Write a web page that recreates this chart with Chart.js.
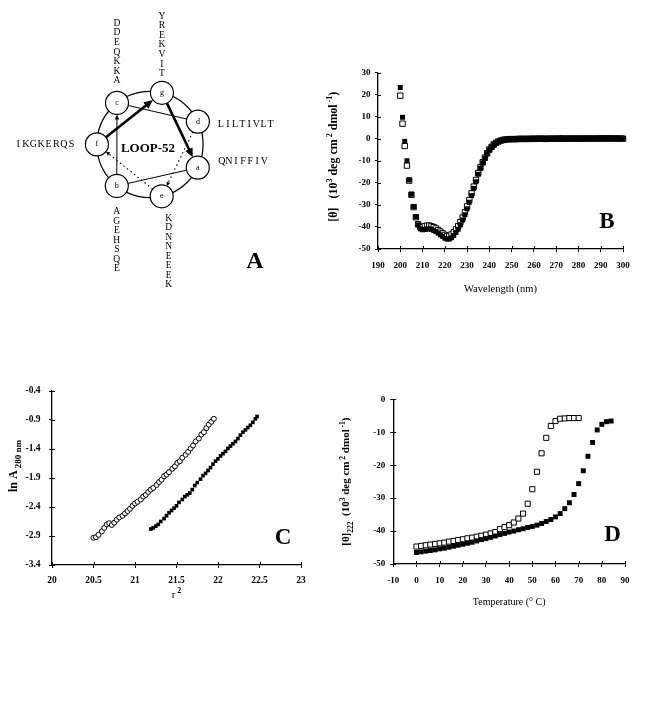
<!DOCTYPE html>
<html>
<head>
<meta charset="utf-8">
<title>LOOP-52</title>
<script src="https://cdn.jsdelivr.net/npm/chart.js@4.4.1/dist/chart.umd.min.js"></script>
<style>
  html, body { margin: 0; padding: 0; background: #fff; }
  body { position: relative; width: 671px; height: 703px; overflow: hidden; }
  canvas { position: absolute; }
</style>
</head>
<body>
<canvas id="wheel" width="300" height="300" style="left:0;top:0"></canvas>
<canvas id="cd" width="320" height="240" style="left:320px;top:60px"></canvas>
<canvas id="sed" width="330" height="260" style="left:0;top:370px"></canvas>
<canvas id="melt" width="341" height="260" style="left:330px;top:370px"></canvas>
<script>
const SERIF = "'Liberation Serif', 'Times New Roman', serif";

// ---- A: helical wheel
const heptad = ['a', 'b', 'c', 'd', 'e', 'f', 'g'];
const wheelOrder = ['g', 'd', 'a', 'e', 'b', 'f', 'c']; // clockwise from the top
const residues = { a: 'QNIFFIV', b: 'AGEHSQE', c: 'DDEQKKA', d: 'LILTIVLT', e: 'KDNNEEEK', f: 'IKGKERQS', g: 'YREKVIT' };
const links = [['a', 'b', 'thin'], ['b', 'c', 'thinArrow'], ['c', 'd', 'thin'], ['d', 'e', 'dot'], ['e', 'f', 'dot'], ['f', 'g', 'thick'], ['g', 'a', 'thick']];

// ---- B: CD spectrum
const cdWavelength = Array.from({ length: 101 }, (_, i) => 200 + i);
const cdFilled = [
  23.2, 9.7, -1.2, -10.0, -18.7, -25.2, -30.8, -35.4, -39.0, -40.9,
  -41.3, -41.2, -40.9, -40.9, -41.1, -41.6, -42.1, -42.8, -43.6, -44.3,
  -45.1, -45.5, -45.5, -44.9, -43.9, -42.5, -41.0, -39.0, -36.8, -34.5,
  -31.8, -28.8, -25.8, -22.5, -19.5, -16.1, -13.4, -11.0, -8.9, -6.8,
  -5.1, -3.8, -2.7, -2.0, -1.4, -0.9, -0.6, -0.45, -0.3, -0.3,
  -0.3, -0.2, -0.2, -0.2, -0.2, -0.1, -0.2, -0.1, -0.1, -0.1,
  -0.1, -0.1, 0, -0.1, 0, -0.1, 0, 0, -0.1, 0,
  0, 0, 0, -0.1, 0, 0, 0, 0.1, 0, 0,
  0, 0.1, 0, 0, 0.1, 0, 0.1, 0.1, 0, 0.1,
  0.2, 0.1, 0.1, 0.2, 0.1, 0.1, 0.1, 0, 0.1, 0,
  0
];
const cdOpen = [
  19.5, 6.8, -3.3, -12.2, -19.0, -25.4, -31.0, -35.6, -38.8, -40.0,
  -40.0, -39.6, -39.4, -39.4, -39.7, -40.1, -40.7, -41.4, -42.1, -42.9,
  -43.6, -44.1, -44.1, -43.4, -42.4, -41.1, -39.6, -37.8, -35.8, -33.4,
  -30.7, -27.8, -24.8, -21.7, -18.7, -15.6, -13.0, -10.7, -8.6, -6.6,
  -4.9, -3.7, -2.6, -1.9, -1.3, -0.9, -0.6, -0.4, -0.3, -0.2,
  -0.2, -0.2, -0.2, -0.1, -0.1, -0.1, -0.1, -0.1, -0.1, 0,
  -0.1, 0, 0, 0, 0, -0.1, 0, 0, 0, 0,
  0, 0, 0.1, 0, 0, 0, 0.1, 0, 0, 0.1,
  0, 0, 0.1, 0, 0.1, 0.1, 0, 0.1, 0.1, 0.1,
  0.1, 0.2, 0.1, 0.1, 0.1, 0.2, 0.1, 0.1, 0, 0.1,
  0
];
const cdXTicks = [190, 200, 210, 220, 230, 240, 250, 260, 270, 280, 290, 300];
const cdYTicks = [30, 20, 10, 0, -10, -20, -30, -40, -50];

// ---- C: sedimentation equilibrium
const sedOpenR2 = [20.50, 20.53, 20.56, 20.60, 20.63, 20.66, 20.69, 20.72, 20.75, 20.78, 20.81, 20.85, 20.88, 20.91, 20.94, 20.97,
  21.00, 21.03, 21.07, 21.10, 21.13, 21.16, 21.19, 21.22, 21.26, 21.29, 21.32, 21.35, 21.38, 21.41, 21.45, 21.48,
  21.51, 21.54, 21.57, 21.61, 21.64, 21.67, 21.70, 21.73, 21.77, 21.80, 21.83, 21.86, 21.89, 21.92, 21.95];
const sedOpenLnA = [-2.93, -2.92, -2.88, -2.82, -2.76, -2.70, -2.68, -2.71, -2.67, -2.62, -2.58, -2.55, -2.51, -2.47, -2.43, -2.38,
  -2.34, -2.31, -2.27, -2.22, -2.19, -2.14, -2.10, -2.07, -2.02, -1.97, -1.93, -1.87, -1.84, -1.80, -1.74, -1.70,
  -1.64, -1.61, -1.55, -1.50, -1.45, -1.39, -1.34, -1.27, -1.22, -1.15, -1.11, -1.04, -0.98, -0.93, -0.88];
const sedFilledR2 = [21.19, 21.22, 21.25, 21.28, 21.31, 21.35, 21.38, 21.41, 21.44, 21.47, 21.50, 21.53, 21.57, 21.60, 21.63,
  21.66, 21.69, 21.72, 21.75, 21.79, 21.82, 21.85, 21.88, 21.91, 21.94, 21.97, 22.00, 22.03, 22.06, 22.09,
  22.12, 22.15, 22.18, 22.21, 22.24, 22.27, 22.30, 22.33, 22.36, 22.39, 22.42, 22.45, 22.47];
const sedFilledLnA = [-2.78, -2.76, -2.73, -2.70, -2.65, -2.60, -2.55, -2.50, -2.46, -2.42, -2.38, -2.32, -2.27, -2.22, -2.19,
  -2.16, -2.10, -2.03, -1.98, -1.92, -1.86, -1.82, -1.77, -1.72, -1.66, -1.61, -1.57, -1.52, -1.48, -1.44,
  -1.39, -1.35, -1.31, -1.27, -1.22, -1.16, -1.11, -1.07, -1.03, -0.99, -0.94, -0.88, -0.84];
const sedXTicks = [20, 20.5, 21, 21.5, 22, 22.5, 23];
const sedYTicks = [-0.4, -0.9, -1.4, -1.9, -2.4, -2.9, -3.4];

// ---- D: thermal melt at 222 nm
const meltTempOpen = Array.from({ length: 36 }, (_, i) => i * 2);
const meltOpen = [-44.7, -44.5, -44.3, -44.1, -43.9, -43.7, -43.5, -43.2, -43.0, -42.7, -42.5, -42.2, -42.0, -41.7, -41.4, -41.1,
  -40.7, -40.3, -39.4, -38.8, -38.2, -37.4, -36.2, -34.7, -31.7, -27.3, -22.0, -16.4, -11.7, -8.1, -6.6, -5.9,
  -5.8, -5.7, -5.7, -5.7];
const meltTempFilled = Array.from({ length: 43 }, (_, i) => i * 2);
const meltFilled = [-46.5, -46.3, -46.1, -45.9, -45.7, -45.4, -45.2, -44.9, -44.6, -44.3, -44.0, -43.7, -43.4, -43.0, -42.6,
  -42.3, -41.9, -41.5, -41.1, -40.7, -40.3, -40.0, -39.6, -39.3, -38.9, -38.6, -38.2, -37.7, -37.1, -36.5,
  -35.7, -34.7, -33.2, -31.4, -28.9, -25.6, -21.7, -17.3, -13.1, -9.3, -7.6, -6.8, -6.6];
const meltXTicks = [-10, 0, 10, 20, 30, 40, 50, 60, 70, 80, 90];
const meltYTicks = [0, -10, -20, -30, -40, -50];

Chart.defaults.font.family = SERIF;
Chart.defaults.color = '#000';

const pts = (xs, ys) => xs.map((x, i) => ({ x, y: ys[i] }));

function richText(ctx, parts, x, y, vertical) {
  ctx.save();
  ctx.translate(x, y);
  if (vertical) ctx.rotate(-Math.PI / 2);
  ctx.textAlign = 'left';
  ctx.textBaseline = 'alphabetic';
  const fontOf = p => `${p[3] ? 'bold ' : ''}${p[1]}px ${SERIF}`;
  let total = 0;
  for (const p of parts) { ctx.font = fontOf(p); total += ctx.measureText(p[0]).width; }
  let cx = -total / 2;
  const base = parts[0][1] * 0.35;
  for (const p of parts) {
    ctx.font = fontOf(p);
    ctx.fillText(p[0], cx, base + p[2]);
    cx += ctx.measureText(p[0]).width;
  }
  ctx.restore();
}

// ticks in the scan cross the axis line, chart.js only draws the outer half
const crossTicks = {
  id: 'crossTicks',
  afterDraw(chart) {
    const { ctx, chartArea: a, scales: { x, y } } = chart;
    ctx.save();
    ctx.strokeStyle = '#000';
    ctx.lineWidth = 1;
    ctx.beginPath();
    x.ticks.forEach(t => {
      const px = Math.round(x.getPixelForValue(t.value)) + 0.5;
      ctx.moveTo(px, a.bottom); ctx.lineTo(px, a.bottom - 3);
    });
    y.ticks.forEach(t => {
      const py = Math.round(y.getPixelForValue(t.value)) + 0.5;
      ctx.moveTo(a.left, py); ctx.lineTo(a.left + 3, py);
    });
    ctx.stroke();
    ctx.restore();
  }
};

function decor(spec) {
  return {
    id: 'decor',
    afterDraw(chart) {
      const { ctx, chartArea: a } = chart;
      ctx.save();
      ctx.fillStyle = '#000';
      richText(ctx, spec.xTitle, (a.left + a.right) / 2, a.bottom + spec.xTitleDy, false);
      richText(ctx, spec.yTitle, a.left + spec.yTitleDx, (a.top + a.bottom) / 2 + spec.yTitleDy, true);
      ctx.font = `bold 23px ${SERIF}`;
      ctx.textAlign = 'center';
      ctx.textBaseline = 'middle';
      ctx.fillText(spec.letter, a.right + spec.letterDx, a.bottom + spec.letterDy);
      ctx.restore();
    }
  };
}

function axis(min, max, tickValues, isX, o) {
  return {
    type: 'linear',
    min, max,
    afterBuildTicks: s => { s.ticks = tickValues.map(v => ({ value: v })); },
    afterFit: s => {
      if (isX) { s.height = o.H - o.area.bottom; s.paddingLeft = 0; s.paddingRight = 0; }
      else { s.width = o.area.left; s.paddingTop = 0; s.paddingBottom = 0; }
    },
    grid: { drawOnChartArea: false, drawTicks: true, tickLength: 3, color: '#000', lineWidth: 1 },
    border: { display: true, color: '#000', width: 1.3 },
    ticks: {
      color: '#000', font: { family: SERIF, size: o.tickSize, weight: 'bold' },
      padding: isX ? o.xPad : o.yPad, maxRotation: 0, minRotation: 0, autoSkip: false,
      callback: v => String(v)
    }
  };
}

function plotOptions(o) {
  return {
    responsive: false,
    animation: false,
    events: [],
    layout: { padding: { left: 0, top: o.area.top, right: o.W - o.area.right, bottom: 0 } },
    plugins: { legend: { display: false }, tooltip: { enabled: false } },
    scales: {
      x: axis(o.xMin, o.xMax, o.xTicks, true, o),
      y: axis(o.yMin, o.yMax, o.yTicks, false, o)
    }
  };
}

function marks(data, filled, radius, style) {
  return {
    data,
    showLine: false,
    clip: false,
    pointStyle: style,
    pointRadius: radius,
    pointBackgroundColor: filled ? '#000' : '#fff',
    pointBorderColor: '#000',
    pointBorderWidth: filled ? 0 : 1
  };
}

// ---- panel A
const NODE_R = 11.5;
const W_CX = 150, W_CY = 144, W_UNIT = 58;
const wheelNodes = heptad.map(h => {
  const ang = (77 - wheelOrder.indexOf(h) * 360 / 7) * Math.PI / 180;
  return { x: Math.cos(ang), y: Math.sin(ang), h };
});
const linkStyle = {
  thin: { w: 1, dash: [], head: null },
  thinArrow: { w: 1, dash: [], head: [5, 2.2] },
  dot: { w: 1.1, dash: [1.5, 3], head: [4, 2] },
  thick: { w: 2.6, dash: [], head: [9, 4] }
};
// where each residue list sits relative to its circle
const labelAnchor = { a: [24, -6], b: [0, 26], c: [0, -22], d: [23, 3], e: [7, 22], f: [-25.5, 0], g: [0, -19] };
const labelSide = { a: 'right', b: 'below', c: 'above', d: 'right', e: 'below', f: 'left', g: 'above' };

const wheelPlugin = {
  id: 'wheel',
  beforeDatasetsDraw(chart) {
    const { ctx, scales: { x, y } } = chart;
    const pos = {};
    wheelNodes.forEach(n => { pos[n.h] = [x.getPixelForValue(n.x), y.getPixelForValue(n.y)]; });
    const cx = x.getPixelForValue(0), cy = y.getPixelForValue(0);
    ctx.save();
    ctx.strokeStyle = '#000';
    ctx.fillStyle = '#000';
    ctx.lineWidth = 1.2;
    ctx.beginPath();
    ctx.arc(cx, cy, x.getPixelForValue(1) - cx, 0, Math.PI * 2);
    ctx.stroke();
    links.forEach(([from, to, kind]) => {
      const p1 = pos[from], p2 = pos[to], st = linkStyle[kind];
      const dx = p2[0] - p1[0], dy = p2[1] - p1[1], len = Math.hypot(dx, dy);
      const ux = dx / len, uy = dy / len;
      const sx = p1[0] + ux * NODE_R, sy = p1[1] + uy * NODE_R;
      const ex = p2[0] - ux * NODE_R, ey = p2[1] - uy * NODE_R;
      const back = st.head ? st.head[0] * 0.8 : 0;
      ctx.lineWidth = st.w;
      ctx.setLineDash(st.dash);
      ctx.beginPath();
      ctx.moveTo(sx, sy);
      ctx.lineTo(ex - ux * back, ey - uy * back);
      ctx.stroke();
      if (st.head) {
        const [L, H] = st.head;
        ctx.setLineDash([]);
        ctx.beginPath();
        ctx.moveTo(ex, ey);
        ctx.lineTo(ex - ux * L - uy * H, ey - uy * L + ux * H);
        ctx.lineTo(ex - ux * L + uy * H, ey - uy * L - ux * H);
        ctx.closePath();
        ctx.fill();
      }
    });
    ctx.restore();
  },
  afterDatasetsDraw(chart) {
    const { ctx, scales: { x, y } } = chart;
    ctx.save();
    ctx.fillStyle = '#000';
    ctx.textAlign = 'center';
    ctx.textBaseline = 'middle';
    wheelNodes.forEach(n => {
      const nx = x.getPixelForValue(n.x), ny = y.getPixelForValue(n.y);
      ctx.font = `8px ${SERIF}`;
      ctx.fillText(n.h, nx, ny);
      const seq = residues[n.h].split('');
      const [ax, ay] = labelAnchor[n.h];
      const side = labelSide[n.h];
      const last = seq.length - 1;
      seq.forEach((ch, i) => {
        let px, py;
        if (side === 'above') { ctx.font = `9.5px ${SERIF}`; px = nx + ax; py = ny + ay - (last - i) * 9.6; }
        else if (side === 'below') { ctx.font = `9.5px ${SERIF}`; px = nx + ax; py = ny + ay + i * 9.5; }
        else if (side === 'right') { ctx.font = `10px ${SERIF}`; px = nx + ax + i * 7.1; py = ny + ay; }
        else { ctx.font = `10px ${SERIF}`; px = nx + ax - (last - i) * 7.6; py = ny + ay; }
        ctx.fillText(ch, px, py);
      });
    });
    const cx = x.getPixelForValue(0), cy = y.getPixelForValue(0);
    ctx.font = `bold 13px ${SERIF}`;
    ctx.fillText('LOOP-52', cx - 2, cy + 4);
    ctx.font = `bold 24px ${SERIF}`;
    ctx.fillText('A', 255, 262);
    ctx.restore();
  }
};

new Chart(document.getElementById('wheel'), {
  type: 'scatter',
  data: {
    datasets: [{
      data: wheelNodes, clip: false, pointRadius: NODE_R,
      pointBackgroundColor: '#fff', pointBorderColor: '#000', pointBorderWidth: 1.2
    }]
  },
  options: {
    responsive: false,
    animation: false,
    events: [],
    layout: { padding: 0 },
    plugins: { legend: { display: false }, tooltip: { enabled: false } },
    scales: {
      x: { display: false, min: -W_CX / W_UNIT, max: (300 - W_CX) / W_UNIT },
      y: { display: false, min: -(300 - W_CY) / W_UNIT, max: W_CY / W_UNIT }
    }
  },
  plugins: [wheelPlugin]
});

// ---- panel B
new Chart(document.getElementById('cd'), {
  type: 'scatter',
  data: {
    datasets: [
      marks(pts(cdWavelength, cdFilled), true, 3.5, 'rect'),
      marks(pts(cdWavelength, cdOpen), false, 3.8, 'rect')
    ]
  },
  options: plotOptions({
    W: 320, H: 240, area: { left: 58, top: 12.5, right: 303, bottom: 189 },
    xMin: 190, xMax: 300, xTicks: cdXTicks, yMin: -50, yMax: 30, yTicks: cdYTicks,
    tickSize: 9, xPad: 8.5, yPad: 4.5
  }),
  plugins: [crossTicks, decor({
    xTitle: [['Wavelength (nm)', 10.5, 0, 0]], xTitleDy: 39,
    yTitle: [['[θ]', 12, 0, 1], ['   (10', 12, 0, 1], ['3', 8, -5, 1], [' deg cm', 12, 0, 1], [' 2', 8, -5, 1],
      [' dmol', 12, 0, 1], [' -1', 8, -5, 1], [')', 12, 0, 1]],
    yTitleDx: -45, yTitleDy: -4,
    letter: 'B', letterDx: -16, letterDy: -27
  })]
});

// ---- panel C
new Chart(document.getElementById('sed'), {
  type: 'scatter',
  data: {
    datasets: [
      marks(pts(sedFilledR2, sedFilledLnA), true, 2.6, 'rect'),
      marks(pts(sedOpenR2, sedOpenLnA), false, 2.5, 'circle')
    ]
  },
  options: plotOptions({
    W: 330, H: 260, area: { left: 52, top: 21, right: 301, bottom: 195 },
    xMin: 20, xMax: 23, xTicks: sedXTicks, yMin: -3.4, yMax: -0.4, yTicks: sedYTicks,
    tickSize: 9.5, xPad: 6.7, yPad: 8.5
  }),
  plugins: [crossTicks, decor({
    xTitle: [['r', 11, 0, 0], [' 2', 8, -5, 1]], xTitleDy: 29,
    yTitle: [['ln A', 12, 0, 1], [' 280 nm', 9, 4, 1]],
    yTitleDx: -39, yTitleDy: -12,
    letter: 'C', letterDx: -18, letterDy: -27
  })]
});

// ---- panel D
new Chart(document.getElementById('melt'), {
  type: 'scatter',
  data: {
    datasets: [
      marks(pts(meltTempFilled, meltFilled), true, 3.5, 'rect'),
      marks(pts(meltTempOpen, meltOpen), false, 3.6, 'rect')
    ]
  },
  options: plotOptions({
    W: 341, H: 260, area: { left: 63.3, top: 29.3, right: 295, bottom: 194 },
    xMin: -10, xMax: 90, xTicks: meltXTicks, yMin: -50, yMax: 0, yTicks: meltYTicks,
    tickSize: 9, xPad: 8.5, yPad: 5
  }),
  plugins: [crossTicks, decor({
    xTitle: [['Temperature (° C)', 10, 0, 0]], xTitleDy: 37.5,
    yTitle: [['[θ]', 11, 0, 1], ['222', 7.5, 3.5, 1], ['  (10', 11, 0, 1], ['3', 7.5, -4.5, 1], [' deg cm', 11, 0, 1],
      [' 2', 7.5, -4.5, 1], [' dmol', 11, 0, 1], [' -1', 7.5, -4.5, 1], [')', 11, 0, 1]],
    yTitleDx: -48, yTitleDy: 0,
    letter: 'D', letterDx: -12.5, letterDy: -29
  })]
});
</script>
</body>
</html>
